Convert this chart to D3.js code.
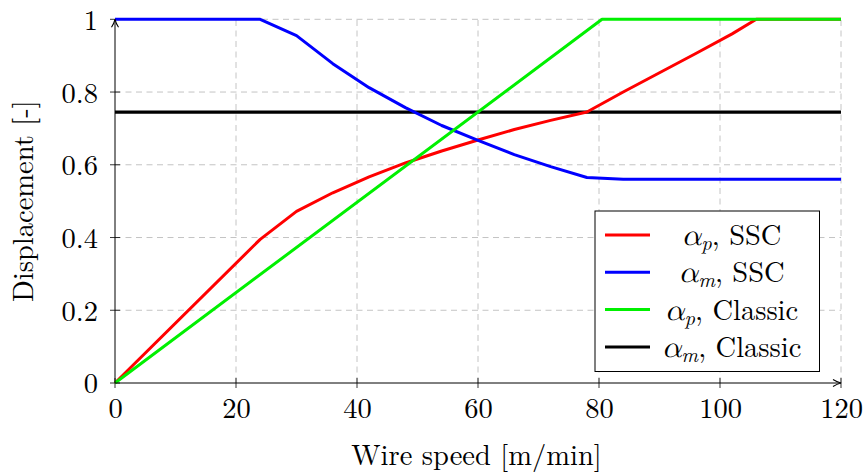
<!DOCTYPE html>
<html><head><meta charset="utf-8">
<script src="https://cdn.jsdelivr.net/npm/d3@7"></script>
<style>body{margin:0;background:#fff}svg{display:block}</style>
</head><body><svg id="c" width="867" height="472"></svg>
<script>
// Data
const redX   = [0, 24, 30, 36, 42, 48, 54, 60, 66, 72, 78, 84, 90, 96, 102, 106, 120];
const redY   = [0, 0.395, 0.472, 0.523, 0.567, 0.605, 0.638, 0.668, 0.697, 0.722, 0.745, 0.800, 0.853, 0.906, 0.960, 1, 1];
const blueX  = [0, 24, 30, 36, 42, 48, 54, 60, 66, 72, 78, 84, 120];
const blueY  = [1, 1, 0.955, 0.878, 0.812, 0.757, 0.708, 0.667, 0.628, 0.595, 0.565, 0.560, 0.560];
const greenX = [0, 80.5, 120];
const greenY = [0, 1, 1];
const blackX = [0, 120];
const blackY = [0.745, 0.745];
const xTicks = [0, 20, 40, 60, 80, 100, 120];
const yTicks = [0, 0.2, 0.4, 0.6, 0.8, 1];
const yTickLabels = ["0", "0.2", "0.4", "0.6", "0.8", "1"];
const seriesNames = [["p","SSC"],["m","SSC"],["p","Classic"],["m","Classic"]];
const colors = ["#ff0000","#0000ff","#00f000","#000000"];

const FONT = "'Latin Modern Roman', 'Liberation Serif', serif";
const GREEK = "'Latin Modern Math', 'Liberation Serif', serif";
const svg = d3.select("#c");
const x = d3.scaleLinear().domain([0,120]).range([115,841]);
const y = d3.scaleLinear().domain([0,1]).range([383,19.3]);
const fs = 28.5;

// grid
const g = svg.append("g").attr("stroke","#c4c4c4").attr("stroke-width",1).attr("stroke-dasharray","6,4.5");
xTicks.filter(d=>d>0).forEach(t=>g.append("line").attr("x1",x(t)).attr("x2",x(t)).attr("y1",y(0)).attr("y2",y(1)));
yTicks.filter(d=>d>0).forEach(t=>g.append("line").attr("x1",x(0)).attr("x2",x(120)).attr("y1",y(t)).attr("y2",y(t)));

// axes
const xa = svg.append("g").attr("transform",`translate(0,${y(0)})`)
  .call(d3.axisBottom(x).tickValues(xTicks).tickSize(0).tickPadding(15).tickFormat(d3.format("d")));
xa.select(".domain").remove();
xa.attr("font-family",null).attr("font-size",null);
xa.selectAll("text").style("font-family",FONT).style("font-size",fs+"px").attr("dy","0.71em");
const ya = svg.append("g").attr("transform",`translate(${x(0)},0)`)
  .call(d3.axisLeft(y).tickValues(yTicks).tickSize(0).tickPadding(17).tickFormat((d,i)=>yTickLabels[i]));
ya.select(".domain").remove();
ya.attr("font-family",null).attr("font-size",null);
ya.selectAll("text").style("font-family",FONT).style("font-size",fs+"px").attr("dy","0.35em");

// tick marks
const tk = svg.append("g").attr("stroke","#000").attr("stroke-width",0.8);
xTicks.forEach(t=>tk.append("line").attr("x1",x(t)).attr("x2",x(t)).attr("y1",y(0)-5).attr("y2",y(0)+5));
yTicks.forEach(t=>tk.append("line").attr("x1",x(0)-5).attr("x2",x(0)+5).attr("y1",y(t)).attr("y2",y(t)));

// series
const line = d3.line().x(d=>x(d[0])).y(d=>y(d[1]));
const series = [[redX,redY],[blueX,blueY],[greenX,greenY],[blackX,blackY]];
const order = [3,0,1,2];
order.forEach(i=>{
  const [xs,ys]=series[i];
  svg.append("path").datum(xs.map((v,j)=>[v,ys[j]])).attr("d",line)
    .attr("fill","none").attr("stroke",colors[i]).attr("stroke-width",i===3?3.3:3).attr("stroke-linejoin","round");
});

// axis lines with arrows
const defs = svg.append("defs");
defs.append("marker").attr("id","arr").attr("viewBox","0 0 10 10").attr("refX",9).attr("refY",5)
  .attr("markerWidth",10).attr("markerHeight",10).attr("markerUnits","userSpaceOnUse").attr("orient","auto")
  .append("path").attr("d","M1,1.5 Q5,4 9,5 Q5,6 1,8.5").attr("fill","none").attr("stroke","#000").attr("stroke-width",1.1);
svg.append("line").attr("x1",x(0)).attr("x2",x(120)).attr("y1",y(0)).attr("y2",y(0)).attr("stroke","#000").attr("stroke-width",1).attr("marker-end","url(#arr)");
svg.append("line").attr("x1",x(0)).attr("x2",x(0)).attr("y1",y(0)).attr("y2",y(1)).attr("stroke","#000").attr("stroke-width",1).attr("marker-end","url(#arr)");

// axis titles
svg.append("text").attr("x",476.5).attr("y",465).attr("text-anchor","middle").style("font-family",FONT).style("font-size",fs+"px").text("Wire speed [m/min]");
svg.append("text").attr("transform",`translate(33,${y(0.5)}) rotate(-90)`).attr("text-anchor","middle").style("font-family",FONT).style("font-size",fs+"px").text("Displacement [-]");

// legend
const lg = svg.append("g");
lg.append("rect").attr("x",595).attr("y",211).attr("width",224.5).attr("height",160.5).attr("fill","#fff").attr("stroke","#000").attr("stroke-width",1);
seriesNames.forEach((n,i)=>{
  const cy = 235 + i*37.3;
  lg.append("line").attr("x1",605).attr("x2",650).attr("y1",cy).attr("y2",cy).attr("stroke",colors[i]).attr("stroke-width",3);
  const t = lg.append("text").attr("x",731.5).attr("y",cy+10).attr("text-anchor","middle").style("font-family",FONT).style("font-size",fs+"px");
  t.append("tspan").style("font-family",GREEK).style("font-style","italic").style("font-size",(fs*1.08)+"px").text("α");
  t.append("tspan").style("font-style","italic").style("font-size",(fs*0.72)+"px").attr("dy",5).text(n[0]);
  t.append("tspan").attr("dy",-5).text(", " + n[1]);
});
</script></body></html>
